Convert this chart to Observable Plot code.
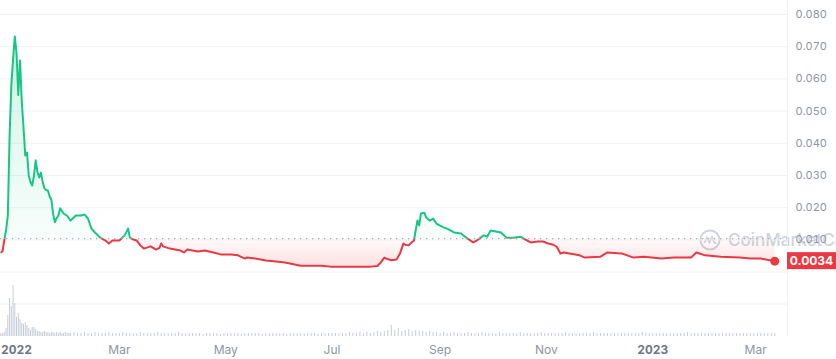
<!DOCTYPE html>
<html><head><meta charset="utf-8">
<script src="https://cdn.jsdelivr.net/npm/d3@7"></script>
<script src="https://cdn.jsdelivr.net/npm/@observablehq/plot@0.6"></script>
<style>
html,body{margin:0;padding:0;background:#fff;}
#chart{position:relative;width:836px;height:359px;overflow:hidden;font-family:Inter,"Noto Sans",sans-serif;}
#chart > svg{position:absolute;left:0;}
#wm{position:absolute;left:699px;top:229px;display:flex;align-items:center;gap:7px;color:#cfd4dc;font-size:17px;font-weight:500;white-space:nowrap;}
</style></head><body><div id="chart"><div id="wm"><svg width="22" height="22" viewBox="0 0 22 22"><circle cx="11" cy="11" r="9.5" fill="none" stroke="#cfd4dc" stroke-width="2"/><path d="M5.5 14 L8 8.5 L10.5 13.5 L13 8 L15 13 Q16 15 17 13.5" fill="none" stroke="#cfd4dc" stroke-width="1.8"/></svg><span>CoinMarketCap</span></div></div>
<script>
// ---- data (days counted from 2022-01-01) ----
const priceDays = [-9,-8,-7,-6,-5,-4,-3,-2,-1,0,1,2,3,4,5,6,7,8,9,10,11,12,13,14,15,16,17,18,19,20,21,22,23,24,25,27,29,31,34,37,39,41,43,45,48,51,53,55,59,62,64,65,67,69,71,73,77,80,82,83,84,88,94,96,98,104,108,113,117,123,127,131,132,137,143,149,154,163,175,180,192,203,207,209,211,212,215,218,220,222,223,225,226,228,229,230,231,232,234,235,237,239,241,245,247,251,255,258,262,264,268,270,272,275,278,281,285,289,292,295,299,302,305,308,310,312,314,323,326,335,339,347,354,360,370,377,387,390,395,404,415,421,427,435];
const priceValues = [0.0061,0.0065,0.0100,0.0130,0.0175,0.0420,0.0580,0.0660,0.0732,0.0680,0.0550,0.0657,0.0530,0.0450,0.0362,0.0371,0.0300,0.0280,0.0269,0.0300,0.0347,0.0310,0.0294,0.0309,0.0280,0.0260,0.0255,0.0253,0.0235,0.0225,0.0180,0.0155,0.0168,0.0175,0.0198,0.0182,0.0175,0.0160,0.0176,0.0176,0.0179,0.0166,0.0135,0.0123,0.0107,0.0098,0.0089,0.0098,0.0098,0.0114,0.0135,0.0107,0.0101,0.0098,0.0083,0.0073,0.0080,0.0070,0.0075,0.0089,0.0080,0.0073,0.0067,0.0061,0.0070,0.0064,0.0067,0.0061,0.0055,0.0055,0.0052,0.0042,0.0045,0.0042,0.0036,0.0033,0.0030,0.0020,0.0020,0.0017,0.0017,0.0017,0.0019,0.0030,0.0045,0.0042,0.0037,0.0039,0.0058,0.0089,0.0085,0.0083,0.0089,0.0098,0.0130,0.0160,0.0145,0.0182,0.0184,0.0170,0.0160,0.0166,0.0150,0.0139,0.0135,0.0123,0.0120,0.0107,0.0092,0.0098,0.0114,0.0110,0.0129,0.0126,0.0123,0.0107,0.0107,0.0110,0.0101,0.0092,0.0095,0.0095,0.0089,0.0085,0.0078,0.0058,0.0061,0.0052,0.0045,0.0048,0.0061,0.0058,0.0045,0.0048,0.0042,0.0045,0.0045,0.0061,0.0052,0.0048,0.0045,0.0042,0.0042,0.0034];
const referencePrice = 0.0104;
// volume: daily from day -9, then every other day from day 33
const volumeDaily = [3,3,4,8,21,38,30,51,33,19,23,17,13,12,14,11,8,6,9,9,7,5,5,4,4,5,4,4,3,4,4,3,4,3,4,3,3,4,3,3,3];
const volumeEveryOther = [4,3,3,4,3,3,4,3,3,3,4,3,3,3,4,3,3,3,3,4,3,3,3,3,4,3,3,3,3,3,4,3,3,3,
 3,3,3,2,3,3,3,3,2,3,3,3,3,3,2,3,3,3,3,3,2,3,3,3,3,3,3,2,3,3,3,3,3,3,3,3,2,3,3,3,3,3,3,3,3,4,3,3,4,3,
 4,3,4,5,4,5,6,11,6,8,5,6,7,5,6,5,5,4,5,4,4,
 3,4,3,3,4,3,3,3,4,3,3,3,4,3,3,3,3,4,3,3,3,3,3,4,3,3,3,3,3,4,3,3,3,3,3,3,4,3,3,3,3,3,3,3,4,3,3,3,3,3,3,3,3,3,3,3,3,3,4,3,3,3,3,3,3,3,3,3,3,3,3,4,3,3,3,3,3,3,3,3,3,3,3,3,3,3,3,3,3,3,3,3,3,3,3,3,3];
const yTicks = [0.01,0.02,0.03,0.04,0.05,0.06,0.07,0.08];
const yGrid = [0,0.01,0.02,0.03,0.04,0.05,0.06,0.07,0.08];
const xTickDates = ["2022-01-01","2022-03-01","2022-05-01","2022-07-01","2022-09-01","2022-11-01","2023-01-01","2023-03-01"];

// ---- build ----
const UP = "#16c784", DOWN = "#ea3943", GRID = "#eff2f5", TEXT = "#8e95a3";
const DAY = 864e5, T0 = Date.UTC(2022,0,1);
const toDate = d => new Date(T0 + d*DAY);
const price = priceDays.map((d,i) => ({date: toDate(d), value: priceValues[i]}));
const volume = [
  ...volumeDaily.map((v,i) => ({date: toDate(-9 + i), v})),
  ...volumeEveryOther.map((v,i) => ({date: toDate(33 + 2*i), v}))
];
const last = price[price.length-1];
const xDomain = [toDate(-9.2), toDate(442.3)];
const W = 836, H = 359, MR = 49;

const tag = (index, scales, values, dims) => {
  const y = scales.y(last.value);
  const g = d3.create("svg:g");
  g.append("rect").attr("x", dims.width - dims.marginRight).attr("y", y - 8.5)
    .attr("width", dims.marginRight).attr("height", 17).attr("fill", DOWN);
  g.append("text").attr("x", dims.width - dims.marginRight/2).attr("y", y).attr("dy", "0.36em")
    .attr("text-anchor", "middle").attr("fill", "#fff").attr("font-weight", 700).attr("font-size", 12)
    .text(d3.format(".4f")(last.value));
  return g.node();
};

const main = Plot.plot({
  width: W, height: H,
  marginLeft: 0, marginRight: MR, marginTop: 14, marginBottom: H - 271.6,
  style: {fontFamily: "Inter, sans-serif", fontSize: "11px", color: TEXT, background: "transparent", overflow: "visible"},
  x: {type: "utc", domain: xDomain, axis: null},
  y: {domain: [0, 0.08], axis: "right", ticks: yTicks, tickFormat: d3.format(".3f"), tickSize: 0, tickPadding: 8, label: null},
  marks: [
    Plot.ruleY(yGrid, {stroke: GRID}),
    Plot.ruleX([xDomain[1]], {y1: -0.0005, y2: 0.0845, stroke: GRID}),
    Plot.areaY(price, {x: "date", y1: referencePrice, y2: d => Math.max(d.value, referencePrice), fill: "url(#gUp)"}),
    Plot.areaY(price, {x: "date", y1: referencePrice, y2: d => Math.min(d.value, referencePrice), fill: "url(#gDown)"}),
    Plot.ruleY([referencePrice], {stroke: "#a3aab8", strokeDasharray: "1.3,4.7", strokeWidth: 1.3}),
    Plot.line(price, {x: "date", y: "value", stroke: UP, strokeWidth: 2, strokeLinejoin: "round"}),
    Plot.line(price, {x: "date", y: "value", stroke: DOWN, strokeWidth: 2, strokeLinejoin: "round"}),
    Plot.dot([last], {x: "date", y: "value", r: 4.5, fill: DOWN}),
    tag
  ]
});

// gradients & clips
const yS = main.scale("y");
const basePx = yS.apply(referencePrice);
const svg = d3.select(main);
const defs = svg.insert("defs", ":first-child");
const gu = defs.append("linearGradient").attr("id", "gUp").attr("gradientUnits", "userSpaceOnUse")
  .attr("x1", 0).attr("x2", 0).attr("y1", yS.apply(0.073)).attr("y2", basePx);
gu.append("stop").attr("offset", 0).attr("stop-color", UP).attr("stop-opacity", 0.2);
gu.append("stop").attr("offset", 1).attr("stop-color", UP).attr("stop-opacity", 0.03);
const gd = defs.append("linearGradient").attr("id", "gDown").attr("gradientUnits", "userSpaceOnUse")
  .attr("x1", 0).attr("x2", 0).attr("y1", basePx).attr("y2", yS.apply(0.0015));
gd.append("stop").attr("offset", 0).attr("stop-color", DOWN).attr("stop-opacity", 0.02);
gd.append("stop").attr("offset", 1).attr("stop-color", DOWN).attr("stop-opacity", 0.15);
defs.append("clipPath").attr("id", "cUp").append("rect").attr("x", 0).attr("y", 0).attr("width", W).attr("height", basePx);
defs.append("clipPath").attr("id", "cDown").append("rect").attr("x", 0).attr("y", basePx).attr("width", W).attr("height", H - basePx);
const lines = svg.selectAll('g[aria-label="line"]').nodes();
if (lines[0]) lines[0].setAttribute("clip-path", "url(#cUp)");
if (lines[1]) lines[1].setAttribute("clip-path", "url(#cDown)");
main.style.top = "0px";

const vol = Plot.plot({
  width: W, height: 88,
  marginLeft: 0, marginRight: MR, marginTop: 0, marginBottom: 23,
  style: {fontFamily: "Inter, sans-serif", fontSize: "12px", color: TEXT, background: "transparent", overflow: "visible"},
  x: {type: "utc", domain: xDomain, ticks: xTickDates.map(s => new Date(s)),
      tickFormat: d => d.getUTCMonth() === 0 ? String(d.getUTCFullYear()) : d3.utcFormat("%b")(d),
      tickSize: 0, tickPadding: 9, label: null},
  y: {domain: [0, 65], axis: null},
  marks: [
    Plot.ruleY([32.5], {stroke: GRID}),
    Plot.ruleX(volume, {x: "date", y: "v", stroke: "#c5ccd8", strokeWidth: 1}),
    Plot.ruleX([xDomain[1]], {y1: 0, y2: 65, stroke: GRID})
  ]
});
vol.style.top = "271px";
d3.select(vol).selectAll('g[aria-label="x-axis tick label"] text, g[aria-label="x-axis"] text').each(function(){
  if (/^\d{4}$/.test(this.textContent)) { this.setAttribute("font-weight", "700"); this.setAttribute("fill", "#6f7789"); }
});

const chart = document.getElementById("chart");
chart.appendChild(main);
chart.appendChild(vol);
</script>
</body></html>
